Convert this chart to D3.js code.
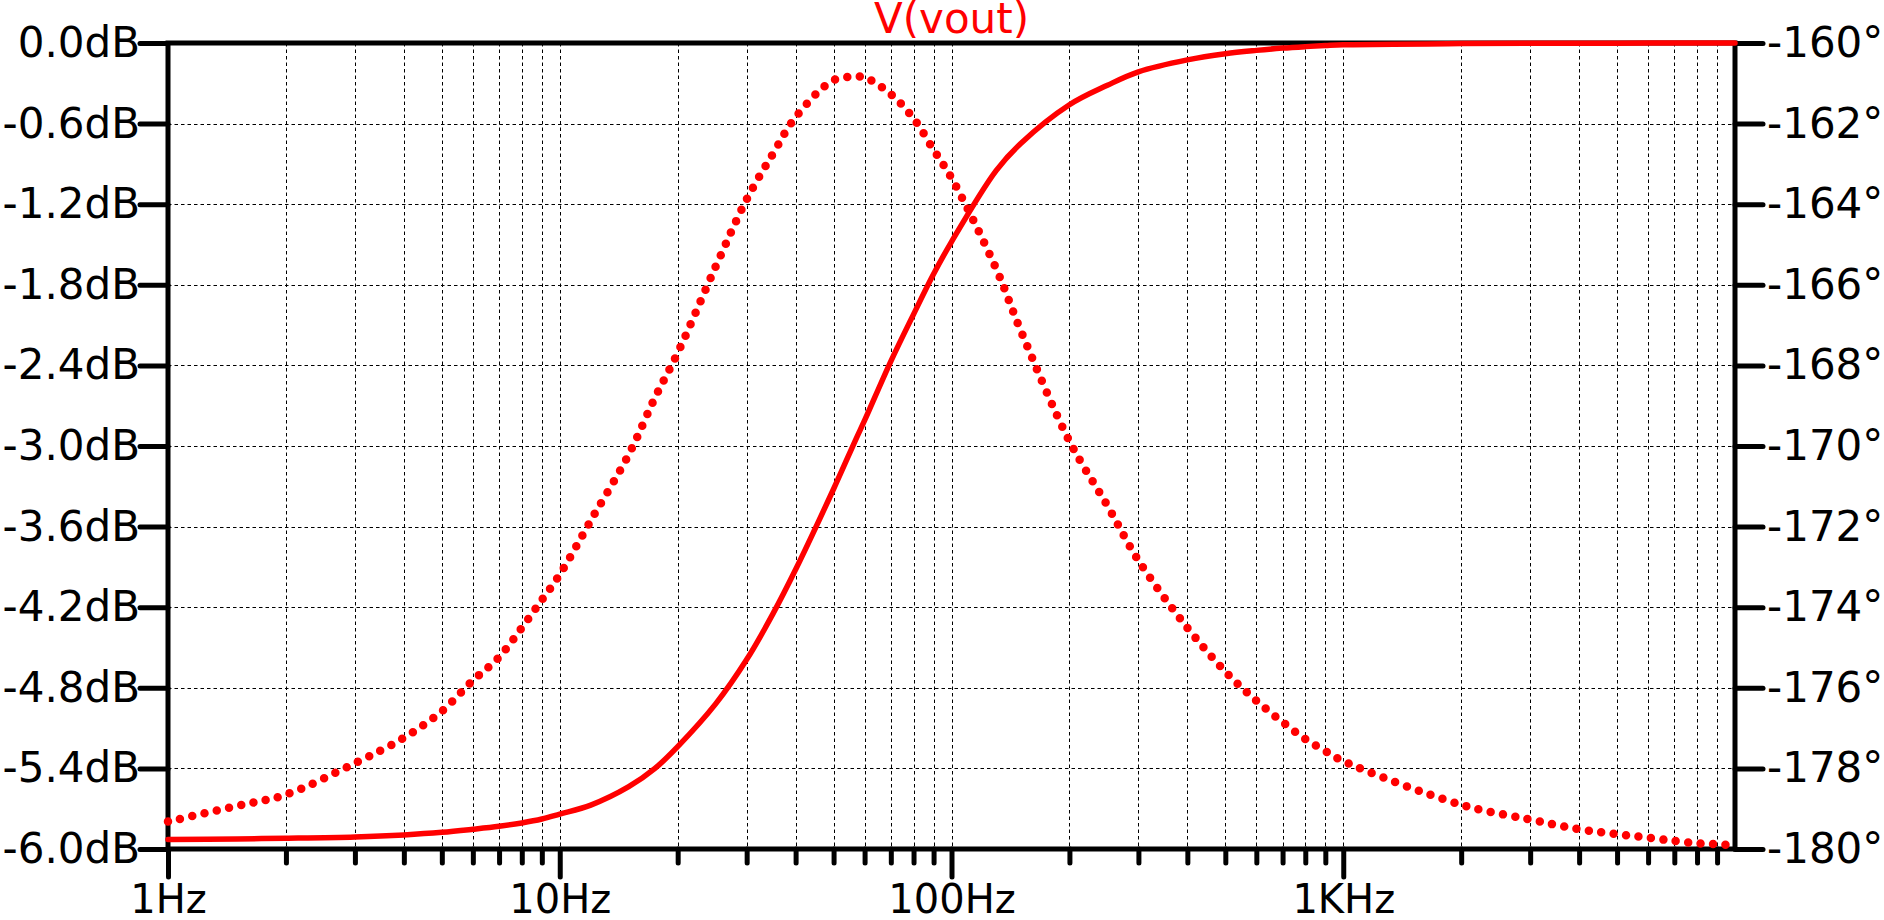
<!DOCTYPE html>
<html>
<head>
<meta charset="utf-8">
<script src="https://cdn.jsdelivr.net/npm/d3@7"></script>
<style>
  html, body { margin: 0; padding: 0; background: #fff; }
  svg { display: block; }
</style>
</head>
<body>
<div id="chart"></div>
<script>
// AC sweep of V(vout)
const freq = [1, 1.5, 2, 3, 4, 5, 6, 7, 8, 9,
  10, 12, 15, 17.5, 20, 25, 30, 35, 40, 50, 57, 60, 70, 80, 90,
  100, 130, 150, 200, 250, 300, 400, 500, 600, 700, 800, 900,
  1000, 2000, 3000, 4000, 5000, 6000, 7000, 8000, 9000, 10000];

// magnitude, dB (solid trace, left axis)
const magDb = [-5.93, -5.925, -5.92, -5.91, -5.895, -5.876, -5.853, -5.831, -5.806, -5.777,
  -5.74, -5.673, -5.536, -5.40, -5.238, -4.92, -4.59, -4.25, -3.92, -3.32, -2.95, -2.81, -2.37, -2.02, -1.72,
  -1.48, -0.95, -0.75, -0.46, -0.315, -0.215, -0.126, -0.08, -0.055, -0.038, -0.027, -0.019,
  -0.013, -0.004, -0.002, -0.001, -0.001, 0, 0, 0, 0, 0];

// phase, degrees (dotted trace, right axis)
const phaseDeg = [-179.32, -178.93, -178.65, -177.87, -177.24, -176.58, -175.82, -175.24, -174.51, -173.82,
  -173.19, -171.85, -170.21, -168.8, -167.69, -165.55, -163.88, -162.75, -161.84, -160.92, -160.84, -160.85, -161.27, -161.87, -162.65,
  -163.35, -165.6, -167.12, -169.88, -171.48, -172.84, -174.51, -175.60, -176.32, -176.85, -177.27, -177.57,
  -177.82, -178.90, -179.27, -179.51, -179.63, -179.72, -179.80, -179.86, -179.88, -179.92];

const dbTicks = [0, -0.6, -1.2, -1.8, -2.4, -3.0, -3.6, -4.2, -4.8, -5.4, -6.0];
const degTicks = [-160, -162, -164, -166, -168, -170, -172, -174, -176, -178, -180];
const decadeTicks = [1, 10, 100, 1000];
const decadeLabels = ["1Hz", "10Hz", "100Hz", "1KHz"];
const title = "V(vout)";

const width = 1884, height = 920;
const marginTop = 43, marginRight = 149, marginBottom = 71, marginLeft = 168;
const plotRight = width - marginRight;
const plotBottom = height - marginBottom;
const red = "#ff0000";
const fontSize = 42;

const x = d3.scaleLog([1, 10000], [marginLeft, plotRight]);
const yMag = d3.scaleLinear([-6, 0], [plotBottom, marginTop]);
const yPhase = d3.scaleLinear([-180, -160], [plotBottom, marginTop]);

const data = freq.map((f, i) => ({f, mag: magDb[i], ph: phaseDeg[i]}));

const svg = d3.select("#chart").append("svg")
    .attr("width", width)
    .attr("height", height)
    .attr("viewBox", [0, 0, width, height])
    .style("font-family", "'DejaVu Sans', Verdana, sans-serif");

svg.append("rect")
    .attr("width", width)
    .attr("height", height)
    .attr("fill", "#fff");

// dashed grid
const minor = x.ticks().filter(f => f > 1 && f < 10000);
const grid = svg.append("g")
    .attr("stroke", "#000")
    .attr("stroke-width", 1)
    .attr("stroke-dasharray", "3.5,3");

grid.selectAll("line.v")
  .data(minor)
  .join("line")
    .attr("class", "v")
    .attr("x1", d => Math.round(x(d)) + 0.5)
    .attr("x2", d => Math.round(x(d)) + 0.5)
    .attr("y1", marginTop)
    .attr("y2", plotBottom);

grid.selectAll("line.h")
  .data(dbTicks.slice(1, -1))
  .join("line")
    .attr("class", "h")
    .attr("x1", marginLeft)
    .attr("x2", plotRight)
    .attr("y1", d => Math.round(yMag(d)) + 0.5)
    .attr("y2", d => Math.round(yMag(d)) + 0.5);

// axes: ticks and labels, the frame is drawn on its own
const styleAxis = (g, size = fontSize) => g
    .attr("font-size", size)
    .attr("font-family", null)
    .call(g => g.select(".domain").remove())
    .call(g => g.selectAll(".tick line")
        .attr("stroke-width", 5)
        .attr("stroke-linecap", "round"))
    .call(g => g.selectAll(".tick text").attr("fill", "#000"));

svg.append("g")
    .attr("transform", `translate(${marginLeft},0)`)
    .call(d3.axisLeft(yMag)
      .tickValues(dbTicks)
      .tickSize(28)
      .tickPadding(0)
      .tickFormat(d => d.toFixed(1) + "dB"))
    .call(styleAxis);

svg.append("g")
    .attr("transform", `translate(${plotRight},0)`)
    .call(d3.axisRight(yPhase)
      .tickValues(degTicks)
      .tickSize(28)
      .tickPadding(4)
      .tickFormat(d => `${d}°`))
    .call(styleAxis);

svg.append("g")
    .attr("transform", `translate(0,${plotBottom})`)
    .call(d3.axisBottom(x)
      .tickValues(minor.filter(f => !decadeTicks.includes(f)))
      .tickSize(14)
      .tickFormat(""))
    .call(styleAxis);

svg.append("g")
    .attr("transform", `translate(0,${plotBottom})`)
    .call(d3.axisBottom(x)
      .tickValues(decadeTicks)
      .tickSize(28)
      .tickPadding(8)
      .tickFormat((d, i) => decadeLabels[i]))
    .call(styleAxis, 40);

svg.append("rect")
    .attr("x", marginLeft)
    .attr("y", marginTop)
    .attr("width", plotRight - marginLeft)
    .attr("height", plotBottom - marginTop)
    .attr("fill", "none")
    .attr("stroke", "#000")
    .attr("stroke-width", 5);

// traces
const magLine = d3.line()
    .x(d => x(d.f))
    .y(d => yMag(d.mag))
    .curve(d3.curveCatmullRom.alpha(0.5));

const phaseLine = d3.line()
    .x(d => x(d.f))
    .y(d => yPhase(d.ph))
    .curve(d3.curveCatmullRom.alpha(0.5));

svg.append("path")
    .datum(data)
    .attr("fill", "none")
    .attr("stroke", red)
    .attr("stroke-width", 5.5)
    .attr("stroke-linecap", "round")
    .attr("d", magLine);

svg.append("path")
    .datum(data)
    .attr("fill", "none")
    .attr("stroke", red)
    .attr("stroke-width", 8.5)
    .attr("stroke-linecap", "round")
    .attr("stroke-dasharray", "0,12.5")
    .attr("d", phaseLine);

svg.append("text")
    .attr("x", (marginLeft + plotRight) / 2)
    .attr("y", 33)
    .attr("text-anchor", "middle")
    .attr("font-size", fontSize)
    .attr("fill", red)
    .text(title);
</script>
</body>
</html>
